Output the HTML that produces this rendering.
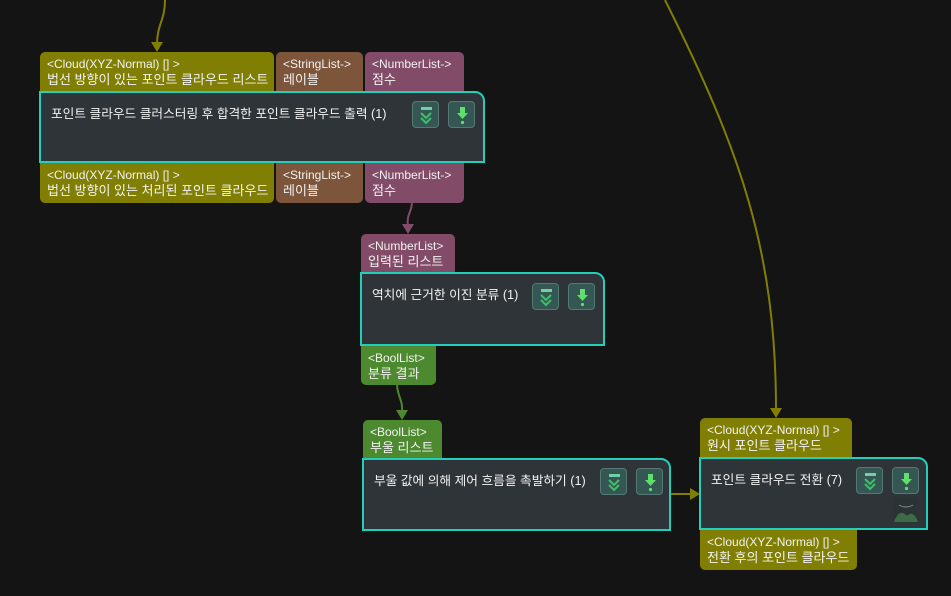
<!DOCTYPE html>
<html><head><meta charset="utf-8"><style>
body{margin:0;width:951px;height:596px;background:#141414;overflow:hidden;position:relative;font-family:"Liberation Sans","Noto Sans CJK KR",sans-serif;}
.l{position:absolute;color:#f2f2f2;font-size:13px;line-height:16px;padding:4px 7px;box-sizing:border-box;white-space:nowrap}
.l i{font-style:normal;font-size:12px}
.o{background:#817f03}.b{background:#7c553a}.p{background:#824c68}.g{background:#4d8a2f}
.t{border-radius:5px 5px 0 0}.u{border-radius:0 0 5px 5px}
.n{position:absolute;background:#2f3438;border:2px solid #22cfb8;border-radius:0 10px 0 0;box-sizing:border-box;color:#f2f2f2;font-size:12.7px}
.n span{position:absolute;left:10px;top:10px}
.btn{position:absolute;width:27px;height:27px;background:#355753;border:1px solid #557a75;border-radius:4px;box-sizing:border-box}
.btn svg{position:absolute;left:0;top:0}
</style></head><body>
<svg width="951" height="596" style="position:absolute;left:0;top:0">
<path d="M165 0 C165 20,157 25,157 44" stroke="#817f03" stroke-width="2" fill="none"/>
<polygon points="151,42 163,42 157,52" fill="#817f03"/>
<path d="M665 0 C740 150,776 250,776 410" stroke="#817f03" stroke-width="2" fill="none"/>
<polygon points="770,408 782,408 776,418" fill="#817f03"/>
<path d="M412 202 C412 212,406 215,408 226" stroke="#824c68" stroke-width="2" fill="none"/>
<polygon points="402,224 414,224 408,234" fill="#824c68"/>
<path d="M397 385 C398 398,403 400,402 412" stroke="#4d8a2f" stroke-width="2" fill="none"/>
<polygon points="396,410 408,410 402,420" fill="#4d8a2f"/>
<line x1="670" y1="494" x2="692" y2="494" stroke="#817f03" stroke-width="2"/>
<polygon points="690,488 700,494 690,500" fill="#817f03"/>
</svg>

<div class="l o t" style="left:40px;top:52px;width:234px;height:40px"><i>&lt;Cloud(XYZ-Normal) [] &gt;</i><br>법선 방향이 있는 포인트 클라우드 리스트</div>
<div class="l b t" style="left:276px;top:52px;width:87px;height:40px"><i>&lt;StringList-&gt;</i><br>레이블</div>
<div class="l p t" style="left:365px;top:52px;width:99px;height:40px"><i>&lt;NumberList-&gt;</i><br>점수</div>
<div class="n" style="left:39px;top:91px;width:446px;height:72px"><span>포인트 클라우드 클러스터링 후 합격한 포인트 클라우드 출력 (1)</span>
<div class="btn" style="left:371px;top:8px"><svg width="27" height="27"><rect x="8" y="5" width="11" height="3" fill="#6fd0a8"/><path d="M8 11l5 5 5-5M8 16l5 5 5-5" stroke="#3fbf6a" stroke-width="2" fill="none"/></svg></div>
<div class="btn" style="left:407px;top:8px"><svg width="27" height="27"><path d="M11 5h5v6h3l-5.5 6-5.5-6h3z" fill="#5fe06a"/><circle cx="13.5" cy="20.5" r="1.6" fill="#5fe06a"/></svg></div></div>
<div class="l o u" style="left:40px;top:163px;width:234px;height:40px"><i>&lt;Cloud(XYZ-Normal) [] &gt;</i><br>법선 방향이 있는 처리된 포인트 클라우드</div>
<div class="l b u" style="left:276px;top:163px;width:87px;height:40px"><i>&lt;StringList-&gt;</i><br>레이블</div>
<div class="l p u" style="left:365px;top:163px;width:99px;height:40px"><i>&lt;NumberList-&gt;</i><br>점수</div>

<div class="l p t" style="left:361px;top:234px;width:94px;height:38px"><i>&lt;NumberList&gt;</i><br>입력된 리스트</div>
<div class="n" style="left:360px;top:272px;width:245px;height:74px"><span>역치에 근거한 이진 분류 (1)</span>
<div class="btn" style="left:170px;top:9px"><svg width="27" height="27"><rect x="8" y="5" width="11" height="3" fill="#6fd0a8"/><path d="M8 11l5 5 5-5M8 16l5 5 5-5" stroke="#3fbf6a" stroke-width="2" fill="none"/></svg></div>
<div class="btn" style="left:206px;top:9px"><svg width="27" height="27"><path d="M11 5h5v6h3l-5.5 6-5.5-6h3z" fill="#5fe06a"/><circle cx="13.5" cy="20.5" r="1.6" fill="#5fe06a"/></svg></div></div>
<div class="l g u" style="left:361px;top:346px;width:75px;height:39px"><i>&lt;BoolList&gt;</i><br>분류 결과</div>

<div class="l g t" style="left:363px;top:420px;width:79px;height:38px"><i>&lt;BoolList&gt;</i><br>부울 리스트</div>
<div class="n" style="left:362px;top:458px;width:309px;height:73px"><span>부울 값에 의해 제어 흐름을 촉발하기 (1)</span>
<div class="btn" style="left:236px;top:8px"><svg width="27" height="27"><rect x="8" y="5" width="11" height="3" fill="#6fd0a8"/><path d="M8 11l5 5 5-5M8 16l5 5 5-5" stroke="#3fbf6a" stroke-width="2" fill="none"/></svg></div>
<div class="btn" style="left:272px;top:8px"><svg width="27" height="27"><path d="M11 5h5v6h3l-5.5 6-5.5-6h3z" fill="#5fe06a"/><circle cx="13.5" cy="20.5" r="1.6" fill="#5fe06a"/></svg></div></div>

<div class="l o t" style="left:700px;top:418px;width:152px;height:40px"><i>&lt;Cloud(XYZ-Normal) [] &gt;</i><br>원시 포인트 클라우드</div>
<div class="n" style="left:699px;top:457px;width:229px;height:73px"><span>포인트 클라우드 전환 (7)</span>
<div class="btn" style="left:155px;top:8px"><svg width="27" height="27"><rect x="8" y="5" width="11" height="3" fill="#6fd0a8"/><path d="M8 11l5 5 5-5M8 16l5 5 5-5" stroke="#3fbf6a" stroke-width="2" fill="none"/></svg></div>
<div class="btn" style="left:191px;top:8px"><svg width="27" height="27"><path d="M11 5h5v6h3l-5.5 6-5.5-6h3z" fill="#5fe06a"/><circle cx="13.5" cy="20.5" r="1.6" fill="#5fe06a"/></svg></div>
<svg style="position:absolute;left:192px;top:38px" width="26" height="26"><rect width="26" height="26" rx="3" fill="#2c3335"/><path d="M1 25 C5 14,10 14,14 19 C17 15,22 16,25 25z" fill="#3d6b45"/><path d="M6 8q7 4 14 0" stroke="#889" stroke-width="1" fill="none"/></svg></div>
<div class="l o u" style="left:700px;top:530px;width:157px;height:40px"><i>&lt;Cloud(XYZ-Normal) [] &gt;</i><br>전환 후의 포인트 클라우드</div>
</body></html>
